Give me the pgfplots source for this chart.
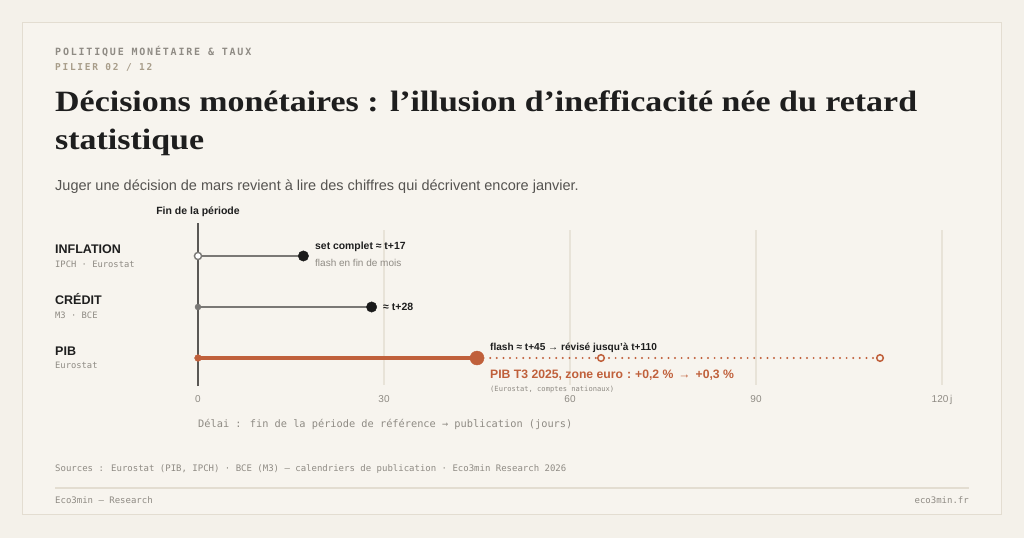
\documentclass[border=0pt]{standalone}
\usepackage{pgfplots}
\pgfplotsset{compat=1.18}
\usepackage{fontspec}
\setmainfont{Liberation Sans}
\newfontfamily\seriff[FakeStretch=1.15]{Liberation Serif}
\newfontfamily\monof{DejaVu Sans Mono}
\newfontfamily\monols[LetterSpace=18]{DejaVu Sans Mono}
\newcommand{\fs}[1]{\fontsize{#1bp}{#1bp}\selectfont}
\definecolor{bg}{HTML}{F4F1EA}
\definecolor{card}{HTML}{F7F4EE}
\definecolor{cardborder}{HTML}{E3DDD1}
\definecolor{ink}{HTML}{1E1E1E}
\definecolor{sub}{HTML}{555350}
\definecolor{muted}{HTML}{8F8B84}
\definecolor{tan}{HTML}{A89D8A}
\definecolor{orng}{HTML}{C0603B}
\definecolor{linegray}{HTML}{7A7875}
\definecolor{axisc}{HTML}{5A5855}
\definecolor{gridc}{HTML}{E8E3D8}
\definecolor{dotgray}{HTML}{1A1A1A}
\begin{document}
\begin{tikzpicture}[x=1bp,y=1bp]
\path[use as bounding box, fill=bg] (0,0) rectangle (1024,538);
\draw[fill=card, draw=cardborder, line width=1bp] (22.5,23) rectangle (1001,515.5);
% header
\node[anchor=base west, inner sep=0, text=muted, font=\monols\bfseries\fs{10}] at (55,{538-56}) {POLITIQUE MONÉTAIRE \& TAUX};
\node[anchor=base west, inner sep=0, text=tan, font=\monols\bfseries\fs{9.5}] at (55,{538-71}) {PILIER 02 / 12};
\node[anchor=base west, inner sep=0, text=ink, font=\seriff\bfseries\fs{29.5}] at (55,{538-112}) {Décisions monétaires : l’illusion d’inefficacité née du retard};
\node[anchor=base west, inner sep=0, text=ink, font=\seriff\bfseries\fs{29.5}] at (55,{538-150}) {statistique};
\node[anchor=base west, inner sep=0, text=sub, font=\fs{14.5}] at (55,{538-191}) {Juger une décision de mars revient à lire des chiffres qui décrivent encore janvier.};
% row labels
\node[anchor=base west, inner sep=0, text=ink, font=\bfseries\fs{12.5}] at (55,{538-254}) {INFLATION};
\node[anchor=base west, inner sep=0, text=muted, font=\monof\fs{8.8}] at (55,{538-268}) {IPCH · Eurostat};
\node[anchor=base west, inner sep=0, text=ink, font=\bfseries\fs{12.5}] at (55,{538-305}) {CRÉDIT};
\node[anchor=base west, inner sep=0, text=muted, font=\monof\fs{8.8}] at (55,{538-319}) {M3 · BCE};
\node[anchor=base west, inner sep=0, text=ink, font=\bfseries\fs{12.5}] at (55,{538-356}) {PIB};
\node[anchor=base west, inner sep=0, text=muted, font=\monof\fs{8.8}] at (55,{538-369}) {Eurostat};
% plot
\begin{axis}[
  at={(198bp,153bp)}, anchor=south west,
  width=744bp, height=162bp, scale only axis,
  xmin=0, xmax=120, ymin=0.471, ymax=3.647,
  axis line style={draw=none},
  ytick=\empty, xtick={0,30,60,90,120},
  xticklabels={0,30,60,90,120\,j},
  major tick length=0pt,
  xticklabel style={anchor=base, yshift=-18bp, font=\fs{10}, text=muted},
  clip=false,
]
\addplot[gridc, line width=1.3bp] coordinates {(30,0.471) (30,3.51)};
\addplot[gridc, line width=1.3bp] coordinates {(60,0.471) (60,3.51)};
\addplot[gridc, line width=1.3bp] coordinates {(90,0.471) (90,3.51)};
\addplot[gridc, line width=1.3bp] coordinates {(120,0.471) (120,3.51)};
\addplot[axisc, line width=2bp] coordinates {(0,0.45) (0,3.647)};
% inflation
\addplot[linegray, line width=2bp] coordinates {(0,3) (17,3)};
\addplot[only marks, mark=*, mark size=3.6bp, mark options={fill=white, draw=linegray, line width=1.4bp}] coordinates {(0,3)};
\addplot[only marks, mark=*, mark size=5.2bp, mark options={fill=dotgray, draw=dotgray}] coordinates {(17,3)};
% credit
\addplot[linegray, line width=2bp] coordinates {(0,2) (28,2)};
\addplot[only marks, mark=*, mark size=3bp, mark options={fill=linegray, draw=linegray}] coordinates {(0,2)};
\addplot[only marks, mark=*, mark size=5.2bp, mark options={fill=dotgray, draw=dotgray}] coordinates {(28,2)};
% PIB
\addplot[orng, line width=3.6bp] coordinates {(0,1) (45,1)};
\addplot[orng, line width=2.2bp, line cap=round, dash pattern=on 0pt off 6.6bp] coordinates {(45,1) (110,1)};
\addplot[only marks, mark=*, mark size=3.4bp, mark options={fill=orng, draw=orng}] coordinates {(0,1)};
\addplot[only marks, mark=*, mark size=7bp, mark options={fill=orng, draw=orng}] coordinates {(45,1)};
\addplot[only marks, mark=*, mark size=3.3bp, mark options={fill=card, draw=orng, line width=1.5bp}] coordinates {(65,1) (110,1)};
\end{axis}
% annotations
\node[anchor=base, inner sep=0, text=ink, font=\bfseries\fs{10.5}] at (198,{538-215}) {Fin de la période};
\node[anchor=base west, inner sep=0, text=ink, font=\bfseries\fs{10.4}] at (315,{538-250}) {set complet ≈ t+17};
\node[anchor=base west, inner sep=0, text=muted, font=\fs{10}] at (315,{538-267}) {flash en fin de mois};
\node[anchor=base west, inner sep=0, text=ink, font=\bfseries\fs{10.5}] at (383,{538-311}) {≈ t+28};
\node[anchor=base west, inner sep=0, text=ink, font=\bfseries\fs{10.1}] at (490,{538-351}) {flash ≈ t+45 → révisé jusqu’à t+110};
\node[anchor=base west, inner sep=0, text=orng, font=\bfseries\fs{12.2}] at (490,{538-379}) {PIB T3 2025, zone euro\hspace{4bp}:\hspace{4bp}+0,2~\%\hspace{5bp}→\hspace{5bp}+0,3~\%};
\node[anchor=base west, inner sep=0, text=muted, font=\monof\fs{7.1}] at (490,{538-392}) {(Eurostat, comptes nationaux)};
\node[anchor=base west, inner sep=0, text=muted, font=\monof\fs{10.3}] at (198,{538-428}) {Délai : fin de la période de référence → publication (jours)};
% footer
\node[anchor=base west, inner sep=0, text=muted, font=\monof\fs{9}] at (55,{538-472}) {Sources : Eurostat (PIB, IPCH) · BCE (M3) — calendriers de publication · Eco3min Research 2026};
\draw[cardborder, line width=1.5bp] (55,{538-488}) -- (969,{538-488});
\node[anchor=base west, inner sep=0, text=muted, font=\monof\fs{9}] at (55,{538-504}) {Eco3min — Research};
\node[anchor=base east, inner sep=0, text=muted, font=\monof\fs{9}] at (969,{538-504}) {eco3min.fr};
\end{tikzpicture}
\end{document}
